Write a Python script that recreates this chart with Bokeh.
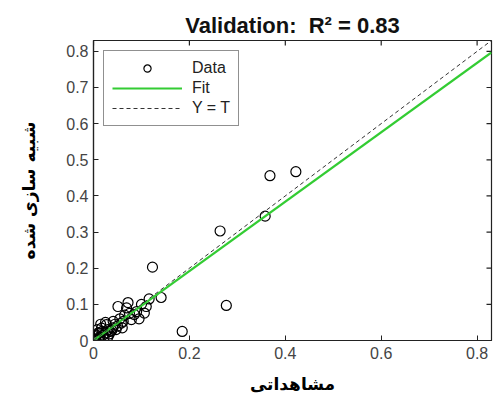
from bokeh.plotting import figure
from bokeh.models import Range1d, LinearAxis, FixedTicker, Legend, LegendItem, Title
from bokeh.embed import file_html
from bokeh.resources import INLINE
import math

# Observed (x) vs simulated (y) validation data
obs = [0.422, 0.368, 0.358, 0.264, 0.123, 0.277, 0.185, 0.141, 0.116, 0.072,
       0.051, 0.069, 0.110, 0.106, 0.085, 0.079, 0.062, 0.041, 0.027, 0.017,
       0.012, 0.002, 0.000, 0.030, 0.020, 0.040, 0.050, 0.010, 0.025, 0.035,
       0.045, 0.055, 0.065, 0.090, 0.095, 0.008, 0.015, 0.005, 0.030, 0.060,
       0.075, 0.100, 0.025, 0.013, 0.018, 0.022, 0.033, 0.038, 0.006, 0.011,
       0.047, 0.058]
sim = [0.467, 0.456, 0.344, 0.303, 0.203, 0.097, 0.025, 0.119, 0.115, 0.105,
       0.094, 0.090, 0.094, 0.076, 0.072, 0.058, 0.053, 0.053, 0.044, 0.034,
       0.020, 0.011, 0.004, 0.030, 0.015, 0.035, 0.040, 0.005, 0.020, 0.025,
       0.045, 0.060, 0.070, 0.080, 0.060, 0.030, 0.045, 0.000, 0.010, 0.035,
       0.075, 0.100, 0.050, 0.010, 0.025, 0.008, 0.018, 0.028, 0.015, 0.022,
       0.030, 0.048]

fit_slope = 0.96
fit_intercept = 0.0
axis_max = 0.83
line_x = [0.0, axis_max]

x_ticks = [0, 0.2, 0.4, 0.6, 0.8]
x_labels = ["0", "0.2", "0.4", "0.6", "0.8"]
y_ticks = [0, 0.1, 0.2, 0.3, 0.4, 0.5, 0.6, 0.7, 0.8]
y_labels = ["0", "0.1", "0.2", "0.3", "0.4", "0.5", "0.6", "0.7", "0.8"]

title_text = "Validation:\u00a0 R\u00b2 = 0.83"
x_title = "مشاهداتی"
y_title = "شبیه سازی شده"

p = figure(width=494, height=400, output_backend="svg", toolbar_location=None,
           x_range=Range1d(0, axis_max), y_range=Range1d(0, axis_max),
           min_border_left=93, min_border_right=3, min_border_top=40, min_border_bottom=60,
           x_axis_location=None, y_axis_location=None)
p.background_fill_color = "white"
p.border_fill_color = "white"
p.xgrid.visible = False
p.ygrid.visible = False
p.outline_line_color = "#222222"
p.outline_line_width = 1.2

def style(ax):
    ax.axis_line_color = "#222222"
    ax.axis_line_width = 1.2
    ax.major_tick_in = 5
    ax.major_tick_out = 0
    ax.minor_tick_in = 0
    ax.minor_tick_out = 0
    ax.major_tick_line_color = "#222222"
    ax.major_label_text_font = "Liberation Sans"
    ax.major_label_text_font_size = "16px"
    ax.major_label_text_color = "#444444"

xb = LinearAxis(ticker=FixedTicker(ticks=x_ticks),
                major_label_overrides={t: l for t, l in zip(x_ticks, x_labels)})
style(xb)
xb.major_label_standoff = 6
xb.axis_label = x_title
xb.axis_label_text_font = "DejaVu Sans"
xb.axis_label_text_font_style = "bold"
xb.axis_label_text_font_size = "17px"
xb.axis_label_text_color = "black"
xb.axis_label_standoff = 12
p.add_layout(xb, "below")

yl = LinearAxis(ticker=FixedTicker(ticks=y_ticks),
                major_label_overrides={t: l for t, l in zip(y_ticks, y_labels)})
style(yl)
yl.major_label_standoff = 5
yl.axis_label = y_title
yl.axis_label_text_font = "DejaVu Sans"
yl.axis_label_text_font_style = "bold"
yl.axis_label_text_font_size = "17px"
yl.axis_label_text_color = "black"
yl.axis_label_standoff = 24
p.add_layout(yl, "left")

# inward ticks on the top and right edges (half of each dash is clipped by the frame)
p.scatter(x_ticks, [axis_max] * len(x_ticks), marker="dash", size=10, angle=math.pi / 2,
          line_color="#222222", line_width=1.2)
p.scatter([axis_max] * len(y_ticks), y_ticks, marker="dash", size=10, angle=0,
          line_color="#222222", line_width=1.2)

r_data = p.scatter(obs, sim, marker="circle", size=10, fill_color=None,
                   line_color="black", line_width=1.2)
fit_y = [fit_slope * v + fit_intercept for v in line_x]
r_fit = p.line(line_x, fit_y, line_color="#33cc33", line_width=2.2)
r_yt = p.line(line_x, line_x, line_color="#333333", line_width=1, line_dash="4 3")

legend = Legend(items=[LegendItem(label="Data", renderers=[r_data]),
                       LegendItem(label="Fit", renderers=[r_fit]),
                       LegendItem(label="Y = T", renderers=[r_yt])],
                location="top_left")
legend.margin = 10
legend.padding = 8
legend.spacing = 2
legend.glyph_width = 70
legend.glyph_height = 18
legend.label_height = 18
legend.label_standoff = 10
legend.label_text_font = "Liberation Sans"
legend.label_text_font_size = "16px"
legend.label_text_color = "#222222"
legend.border_line_color = "#222222"
legend.border_line_width = 1.2
legend.background_fill_alpha = 1
p.add_layout(legend, "center")

p.title = Title(text=title_text, align="center", text_font="Liberation Sans",
                text_font_size="22px", text_font_style="bold", text_color="#111111",
                standoff=6)

open("out.html", "w").write(file_html(p, INLINE))
